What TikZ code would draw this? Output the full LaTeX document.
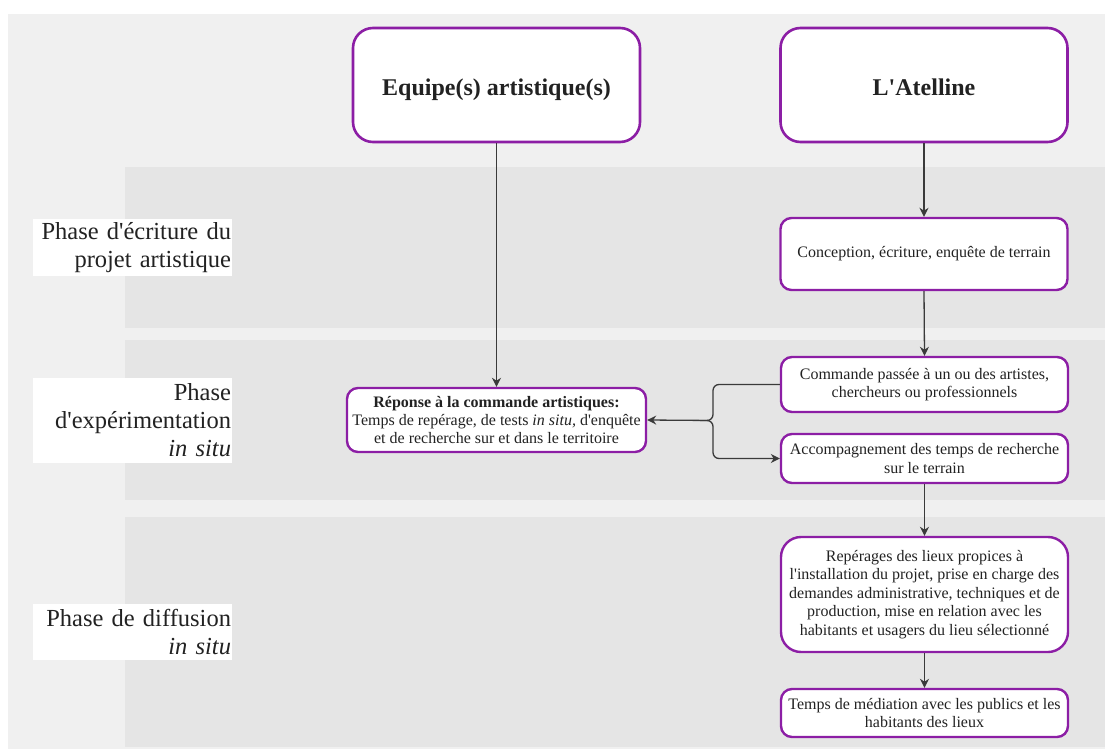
\documentclass[tikz,border=0pt]{standalone}
\usepackage{fontspec}
\setmainfont{Liberation Serif}[Ligatures=TeXOff]
\usetikzlibrary{arrows.meta}
\definecolor{outerbg}{HTML}{F0F0F0}
\definecolor{bandbg}{HTML}{E5E5E5}
\definecolor{boxpurple}{RGB}{140,30,165}
\definecolor{linegray}{HTML}{3A3A3A}
\definecolor{txt}{HTML}{222222}
\tikzset{
  bigbox/.style={draw=boxpurple, line width=2.6pt, fill=white, rounded corners=20pt,
    minimum width=287pt, minimum height=114pt, align=center, inner sep=0pt, text=txt,
    font=\fontsize{24}{28}\selectfont\bfseries},
  stepbox/.style={draw=boxpurple, line width=2.4pt, fill=white, rounded corners=11pt,
    minimum width=287pt, align=center, inner sep=0pt, text=txt,
    font=\fontsize{16}{18.4}\selectfont},
  phaselabel/.style={fill=white, text width=197pt, inner xsep=1pt, inner ysep=0pt, align=right,
    text=txt, font=\fontsize{24.5}{28}\selectfont},
  conn/.style={draw=linegray, line width=1.3pt},
  arr/.style={conn, -{Stealth[length=9pt,width=9pt]}},
}
\begin{document}
\begin{tikzpicture}[x=1pt,y=-1pt]
\useasboundingbox (0,0) rectangle (1105,749);
% backgrounds
\fill[outerbg] (8,14) rectangle (1105,749);
\fill[bandbg] (125,167) rectangle (1105,328);
\fill[bandbg] (125,340) rectangle (1105,500);
\fill[bandbg] (125,517) rectangle (1105,747);
% phase labels
\node[phaselabel, minimum height=57pt] (p1) at (132.5,247.5) {Phase d'écriture du\\projet artistique};
\node[phaselabel, minimum height=85pt] (p2) at (132.5,420.5) {Phase\\d'expérimentation\\\textit{in situ}};
\node[phaselabel, minimum height=56pt] (p3) at (132.5,632) {Phase de diffusion\\\textit{in situ}};
% boxes
\node[bigbox] (eq) at (496.5,85) {\raisebox{-10pt}[0pt][0pt]{Equipe(s) artistique(s)}};
\node[bigbox] (at) at (924,85) {\raisebox{-10pt}[0pt][0pt]{L'Atelline}};
\node[stepbox, minimum height=72pt] (conc) at (924,254) {Conception, écriture, enquête de terrain};
\node[stepbox, minimum height=55pt] (cmd) at (924.5,384.5) {Commande passée à un ou des artistes,\\chercheurs ou professionnels};
\node[stepbox, minimum height=49pt] (acc) at (924.5,458.5) {Accompagnement des temps de recherche\\sur le terrain};
\node[stepbox, minimum height=115pt, rounded corners=20pt] (rpg) at (924.5,594.5) {Repérages des lieux propices à\\l'installation du projet, prise en charge des\\demandes administrative, techniques et de\\production, mise en relation avec les\\habitants et usagers du lieu sélectionné};
\node[stepbox, minimum height=48pt] (med) at (924.5,713) {Temps de médiation avec les publics et les\\habitants des lieux};
\node[stepbox, minimum width=299pt, minimum height=64pt] (rep) at (496.5,420) {\textbf{Réponse à la commande artistiques:}\\Temps de repérage, de tests \textit{in situ,} d'enquête\\et de recherche sur et dans le territoire};
% connectors
\draw[arr] (eq.south) -- (rep.north);
\draw[arr] (at.south) -- (conc.north);
\draw[arr] (conc.south) -- (cmd.north);
\coordinate (j) at (713,420.5);
\coordinate (jl) at (700,420.5);
\draw[arr, rounded corners=6pt] (cmd.west) -| (j) -- (rep.east);
\draw[arr, rounded corners=6pt] (jl) -- (j) |- (acc.west);
\draw[arr] (acc.south) -- (rpg.north);
\draw[arr] (rpg.south) -- (med.north);
\end{tikzpicture}
\end{document}
